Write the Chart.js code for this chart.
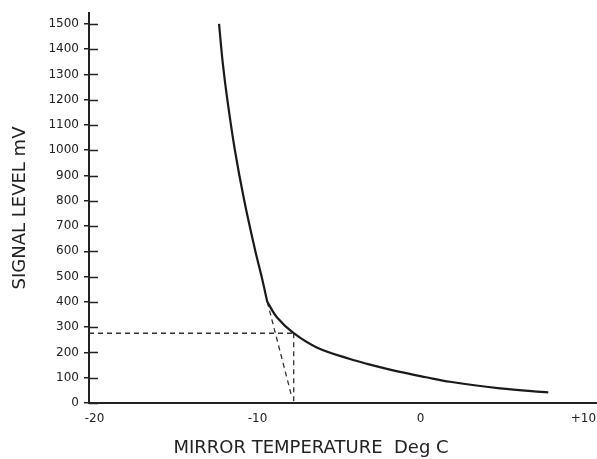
<!DOCTYPE html>
<html>
<head>
<meta charset="utf-8">
<script src="https://cdn.jsdelivr.net/npm/chart.js@4/dist/chart.umd.min.js"></script>
<style>
  html, body { margin: 0; padding: 0; background: #fff; }
  #wrap { width: 597px; height: 459px; }
</style>
</head>
<body>
<div id="wrap"><canvas id="grafica"></canvas></div>
<script>
// Valores
const yTicks = [0, 100, 200, 300, 400, 500, 600, 700, 800, 900, 1000, 1100, 1200, 1300, 1400, 1500];
const xTicks = [-20, -10, 0, 10];
const xTickLabels = ['-20', '-10', '0', '+10'];

// tramo empinado de la curva (hasta el codo)
const tempEmpinado = [-12.36, -12.14, -11.85, -11.39, -10.82, -10.15, -9.76, -9.40];
const senalEmpinado = [1500, 1350, 1199, 1001, 803, 605, 503, 400];

// tramo suave despues del codo
const tempCola = [-9.40, -8.80, -7.78, -6.37, -4.33, -3.28, -1.26, 0.34, 1.81, 4.88, 7.84];
const senalCola = [400, 338, 276, 220, 174, 155, 123, 102, 84, 58, 42];

// lineas de trazos
const horizTemp = [-20.34, -7.78];
const horizSenal = [276, 276];
const vertTemp = [-7.78, -7.78];
const vertSenal = [276, 0];
const diagTemp = [-9.40, -7.90];
const diagSenal = [400, 25];

const xMin = -20.34;
const xMax = 10.83;
const yMax = 1543;

function puntos(xs, ys) {
    return xs.map((x, i) => ({ x: x, y: ys[i] }));
}

const fuente = 'DejaVu Sans';
const negro = '#1a1a1a';

function serieCurva(xs, ys) {
    return {
        data: puntos(xs, ys),
        borderColor: negro,
        borderWidth: 2.2,
        pointRadius: 0,
        fill: false,
        tension: 0.35
    };
}

function serieTrazos(xs, ys) {
    return {
        data: puntos(xs, ys),
        borderColor: '#333',
        borderWidth: 1.3,
        borderDash: [5, 4],
        pointRadius: 0,
        fill: false,
        tension: 0
    };
}

// marcas cortas hacia dentro del eje Y
const marcasInternas = {
    id: 'marcasInternas',
    afterDraw(chart) {
        const ctx = chart.ctx;
        const y = chart.scales.y;
        const left = chart.chartArea.left;
        ctx.save();
        ctx.strokeStyle = '#222';
        ctx.lineWidth = 1.5;
        yTicks.forEach(v => {
            const py = Math.round(y.getPixelForValue(v)) + 0.5;
            ctx.beginPath();
            ctx.moveTo(left, py);
            ctx.lineTo(left + 9, py);
            ctx.stroke();
        });
        ctx.restore();
    }
};

const ctx = document.getElementById('grafica').getContext('2d');
new Chart(ctx, {
    type: 'line',
    data: {
        datasets: [
            serieCurva(tempEmpinado, senalEmpinado),
            serieCurva(tempCola, senalCola),
            serieTrazos(horizTemp, horizSenal),
            serieTrazos(vertTemp, vertSenal),
            serieTrazos(diagTemp, diagSenal)
        ]
    },
    options: {
        responsive: true,
        maintainAspectRatio: false,
        animation: false,
        layout: { padding: { top: 13, left: 25, right: 0, bottom: 0 } },
        plugins: {
            legend: { display: false },
            tooltip: { enabled: false },
            title: {
                display: true,
                position: 'bottom',
                text: 'MIRROR TEMPERATURE  Deg C',
                color: '#222',
                font: { family: fuente, size: 18, weight: 'normal' },
                padding: { top: 0, bottom: 0 }
            }
        },
        scales: {
            x: {
                type: 'linear',
                min: xMin,
                max: xMax,
                afterBuildTicks: (scale) => {
                    scale.ticks = xTicks.map(v => ({ value: v }));
                },
                afterFit: (scale) => {
                    scale.height = 34.4;
                    scale.paddingLeft = 0;
                    scale.paddingRight = 0;
                },
                grid: { display: false, drawTicks: false },
                border: { display: true, color: '#222', width: 2 },
                ticks: {
                    padding: 9,
                    color: '#222',
                    font: { family: fuente, size: 12 },
                    maxRotation: 0,
                    callback: (v) => {
                        const i = xTicks.indexOf(v);
                        return i >= 0 ? xTickLabels[i] : '';
                    }
                }
            },
            y: {
                type: 'linear',
                min: 0,
                max: yMax,
                afterBuildTicks: (scale) => {
                    scale.ticks = yTicks.map(v => ({ value: v }));
                },
                afterFit: (scale) => {
                    scale.width = 64;
                    scale.paddingTop = 0;
                    scale.paddingBottom = 0;
                },
                grid: {
                    display: true,
                    drawOnChartArea: false,
                    drawTicks: true,
                    tickLength: 5,
                    color: '#222',
                    lineWidth: 1.5
                },
                border: { display: true, color: '#222', width: 2 },
                ticks: {
                    padding: 5,
                    color: '#222',
                    font: { family: fuente, size: 12 },
                    callback: (v) => String(v)
                },
                title: {
                    display: true,
                    text: 'SIGNAL LEVEL mV',
                    color: '#222',
                    font: { family: fuente, size: 18, weight: 'normal' },
                    padding: { top: -15.8, bottom: 0 }
                }
            }
        }
    },
    plugins: [marcasInternas]
});
</script>
</body>
</html>
